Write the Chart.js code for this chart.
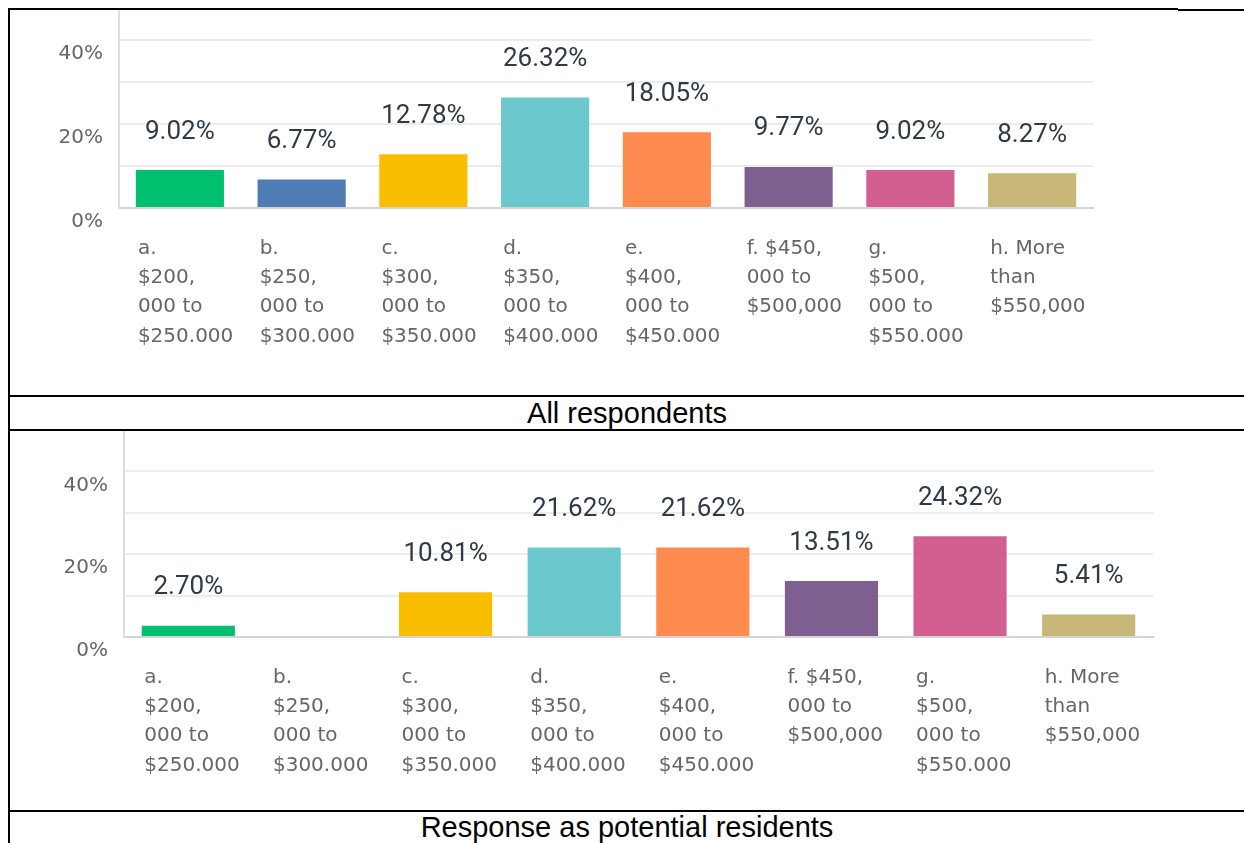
<!DOCTYPE html>
<html>
<head>
<meta charset="utf-8">
<script src="https://cdn.jsdelivr.net/npm/chart.js@4/dist/chart.umd.min.js"></script>
<style>
body { margin: 0; background: #fff; width: 1244px; height: 843px; overflow: hidden; position: relative; }
.line { position: absolute; background: #000; z-index: 2; }
.clip { position: absolute; left: 0; width: 1244px; overflow: hidden; }
.clip canvas { position: absolute; left: 0; }
.cap { position: absolute; left: 10px; width: 1234px; text-align: center; font-family: "Liberation Sans", Arial, sans-serif; font-size: 29px; color: #000; }
</style>
</head>
<body>
<div class="clip" style="top:10px;height:385px"><canvas id="allChart" width="1244" height="426" style="top:-42px"></canvas></div>
<div class="clip" style="top:431px;height:379px"><canvas id="residentsChart" width="1244" height="409" style="top:-31px"></canvas></div>

<div class="cap" style="top:397px;height:32px;line-height:32px">All respondents</div>
<div class="cap" style="top:812px;height:31px;line-height:31px">Response as potential residents</div>

<div class="line" style="left:8px;top:8px;width:1170px;height:2px"></div>
<div class="line" style="left:1178px;top:9px;width:66px;height:2px"></div>
<div class="line" style="left:8px;top:8px;width:2px;height:835px"></div>
<div class="line" style="left:8px;top:395px;width:1236px;height:2px"></div>
<div class="line" style="left:8px;top:429px;width:1236px;height:2px"></div>
<div class="line" style="left:8px;top:810px;width:1236px;height:2px"></div>

<script>
const categories = [
    ["a.", "$200,", "000 to", "$250.000"],
    ["b.", "$250,", "000 to", "$300.000"],
    ["c.", "$300,", "000 to", "$350.000"],
    ["d.", "$350,", "000 to", "$400.000"],
    ["e.", "$400,", "000 to", "$450.000"],
    ["f. $450,", "000 to", "$500,000"],
    ["g.", "$500,", "000 to", "$550.000"],
    ["h. More", "than", "$550,000"]
]
const allRespondents = [9.02, 6.77, 12.78, 26.32, 18.05, 9.77, 9.02, 8.27]
const potentialResidents = [2.70, 0, 10.81, 21.62, 21.62, 13.51, 24.32, 5.41]
const yTickLabels = {0: "0%", 20: "20%", 40: "40%"}

const barColors = ["#00bf6f", "#507cb6", "#f9be00", "#6bc8cd", "#ff8b4f", "#7f5f90", "#d25f90", "#c7b879"]
const tickColor = "#666666"
const valueColor = "#2f3a44"

// percent labels above each bar
const valueLabels = {
    id: "valueLabels",
    afterDatasetsDraw(chart) {
        const ctx = chart.ctx
        const meta = chart.getDatasetMeta(0)
        const values = chart.data.datasets[0].data
        ctx.save()
        ctx.font = "26px Roboto"
        ctx.fillStyle = valueColor
        ctx.textAlign = "center"
        ctx.textBaseline = "middle"
        meta.data.forEach((bar, i) => {
            if (values[i] > 0) ctx.fillText(values[i].toFixed(2) + "%", bar.x, bar.y - 38)
        })
        ctx.restore()
    }
}

function surveyChart(id, values, yWidth, xHeight, rightPad, labelShift) {
    return new Chart(document.getElementById(id), {
        type: 'bar',
        data: {
            labels: categories,
            datasets: [{
                data: values,
                backgroundColor: barColors,
                barPercentage: 0.724,
                categoryPercentage: 1
            }]
        },
        options: {
            responsive: false,
            animation: false,
            devicePixelRatio: 1,
            layout: { padding: { top: 30, right: rightPad, bottom: 0, left: 0 } },
            plugins: { legend: { display: false }, tooltip: { enabled: false } },
            scales: {
                x: {
                    grid: { display: false, drawTicks: false },
                    border: { display: true, color: "#d4d4d4", width: 2 },
                    ticks: {
                        autoSkip: false, maxRotation: 0, minRotation: 0,
                        align: 'start', labelOffset: labelShift, padding: 26,
                        color: tickColor,
                        font: { family: "DejaVu Sans", size: 20, lineHeight: 1.465 }
                    },
                    afterFit: (scale) => { scale.height = xHeight }
                },
                y: {
                    min: 0, max: 50,
                    grid: { color: "#ececec", lineWidth: 2, drawTicks: false },
                    border: { color: "#dedede", width: 2 },
                    ticks: {
                        stepSize: 10, padding: 16, labelOffset: 14,
                        color: tickColor,
                        font: { family: "DejaVu Sans", size: 20 },
                        callback: (v) => v >= 50 ? null : (yTickLabels[v] || "")
                    },
                    afterFit: (scale) => { scale.width = yWidth }
                }
            }
        },
        plugins: [valueLabels]
    })
}

surveyChart("allChart", allRespondents, 119, 186, 151, -42)
surveyChart("residentsChart", potentialResidents, 124, 172, 91, -44)
</script>
</body>
</html>
